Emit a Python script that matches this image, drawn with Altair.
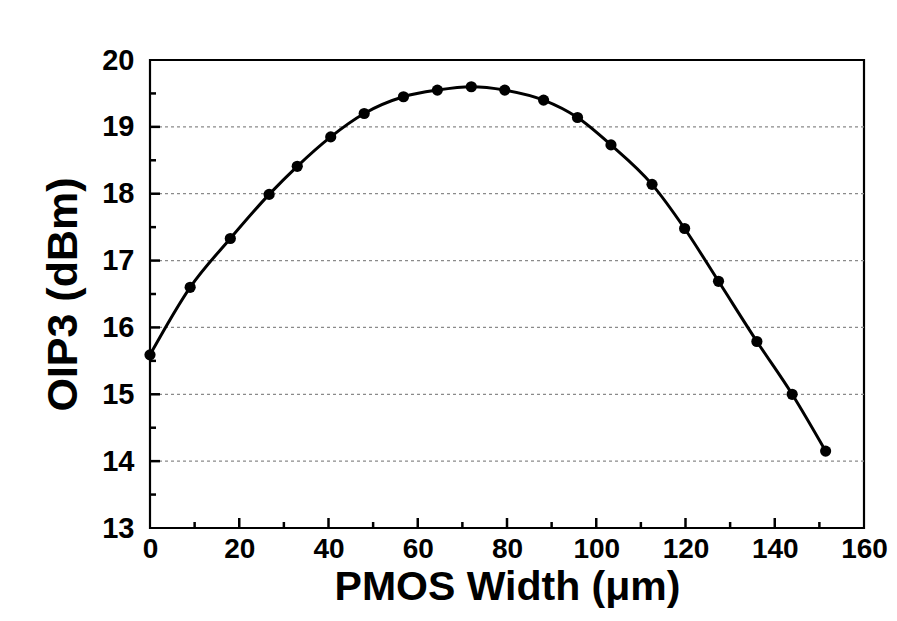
import altair as alt
import pandas as pd

# Data
width_um = [0, 9, 18, 26.7, 33, 40.5, 48, 56.8, 64.4, 72, 79.5, 88.2, 95.8,
            103.3, 112.5, 119.8, 127.4, 136, 143.9, 151.4]
oip3_dbm = [15.59, 16.6, 17.33, 17.99, 18.41, 18.85, 19.2, 19.45, 19.55, 19.6,
            19.55, 19.4, 19.14, 18.73, 18.14, 17.48, 16.69, 15.79, 15.0, 14.15]

x_major = [0, 20, 40, 60, 80, 100, 120, 140, 160]
x_minor = [10, 30, 50, 70, 90, 110, 130, 150]
y_major = [13, 14, 15, 16, 17, 18, 19, 20]
y_minor = [13.5, 14.5, 15.5, 16.5, 17.5, 18.5, 19.5]
grid_y = [14, 15, 16, 17, 18, 19]

W, H = 714, 468
FONT = "Liberation Sans"

df = pd.DataFrame({"w": width_um, "oip3": oip3_dbm})
xs = alt.Scale(domain=[0, 160], nice=False, zero=False)
ys = alt.Scale(domain=[13, 20], nice=False, zero=False)

x_axis = alt.Axis(values=x_major, format="d", title="PMOS Width (μm)", labelFont=FONT,
                  labelFontSize=28, labelFontWeight="bold", labelColor="black",
                  labelPadding=7, tickSize=0, domain=False, grid=False,
                  titleFont=FONT, titleFontSize=41, titleFontWeight="bold",
                  titleColor="black", titlePadding=4, labelFlush=False)
y_axis = alt.Axis(values=y_major, format="d", title="OIP3 (dBm)", labelFont=FONT,
                  labelFontSize=29, labelFontWeight="bold", labelColor="black",
                  labelPadding=16, tickSize=0, domain=False, grid=False,
                  titleFont=FONT, titleFontSize=43, titleFontWeight="bold",
                  titleColor="black", titlePadding=16, labelFlush=False)

grid = alt.Chart(pd.DataFrame({"g": grid_y})).mark_rule(
    color="#8a8a8a", strokeDash=[3, 3], strokeWidth=1.2
).encode(y=alt.Y("g:Q", scale=ys, axis=y_axis))

xmaj = alt.Chart(pd.DataFrame({"t": x_major[1:-1]})).mark_rule(
    color="black", strokeWidth=2.5
).encode(x=alt.X("t:Q", scale=xs, axis=x_axis), y=alt.value(H), y2=alt.value(H - 10))
xmin = alt.Chart(pd.DataFrame({"t": x_minor})).mark_rule(
    color="black", strokeWidth=2.5
).encode(x=alt.X("t:Q", scale=xs), y=alt.value(H), y2=alt.value(H - 6))
ymaj = alt.Chart(pd.DataFrame({"t": y_major[1:-1]})).mark_rule(
    color="black", strokeWidth=2.5
).encode(y=alt.Y("t:Q", scale=ys), x=alt.value(0), x2=alt.value(10))
ymin = alt.Chart(pd.DataFrame({"t": y_minor})).mark_rule(
    color="black", strokeWidth=2.5
).encode(y=alt.Y("t:Q", scale=ys), x=alt.value(0), x2=alt.value(6))

line = alt.Chart(df).mark_line(
    color="black", strokeWidth=3, interpolate="monotone"
).encode(x=alt.X("w:Q", scale=xs), y=alt.Y("oip3:Q", scale=ys))
pts = alt.Chart(df).mark_point(
    filled=True, color="black", size=125, opacity=1
).encode(x=alt.X("w:Q", scale=xs), y=alt.Y("oip3:Q", scale=ys))

chart = alt.layer(grid, xmaj, xmin, ymaj, ymin, line, pts).properties(
    width=W, height=H,
    autosize=alt.AutoSizeParams(type="none"),
    padding={"left": 142, "top": 52, "right": 25, "bottom": 85},
    background="white",
).configure_view(stroke="black", strokeWidth=2.2)

chart.save("out.html", embed_options={"renderer": "svg", "actions": False})
